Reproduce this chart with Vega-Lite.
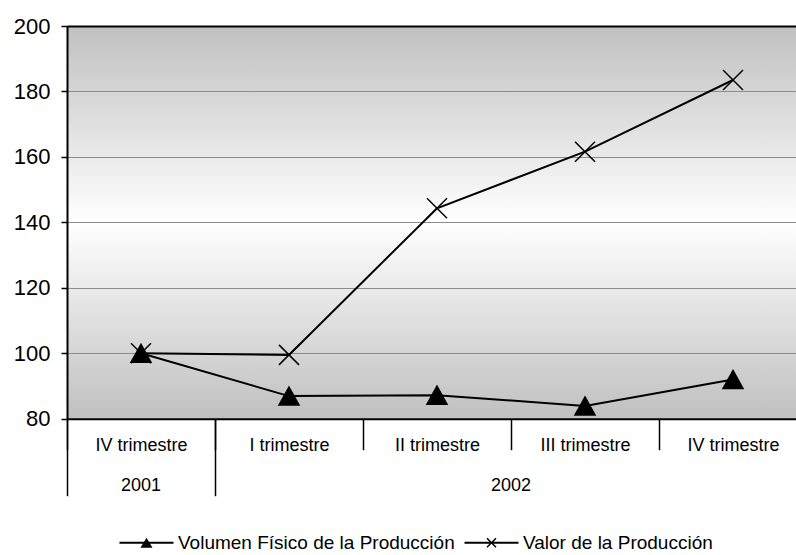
{
  "$schema": "https://vega.github.io/schema/vega-lite/v6.json",
  "width": 729,
  "height": 392.7,
  "autosize": {"type": "none"},
  "padding": {"left": 67, "top": 26, "right": 0, "bottom": 136.3},
  "background": "white",
  "view": {
    "fill": {
      "gradient": "linear", "x1": 0, "y1": 0, "x2": 0, "y2": 1,
      "stops": [
        {"offset": 0, "color": "#c0c0c0"},
        {"offset": 0.5, "color": "#ffffff"},
        {"offset": 1, "color": "#c0c0c0"}
      ]
    },
    "stroke": null
  },
  "config": {"font": "Liberation Sans"},
  "data": {
    "values": [
      {"trimestre": "2001-IV", "serie": "Volumen Físico de la Producción", "valor": 100},
      {"trimestre": "2002-I", "serie": "Volumen Físico de la Producción", "valor": 86.9},
      {"trimestre": "2002-II", "serie": "Volumen Físico de la Producción", "valor": 87.2},
      {"trimestre": "2002-III", "serie": "Volumen Físico de la Producción", "valor": 83.9},
      {"trimestre": "2002-IV", "serie": "Volumen Físico de la Producción", "valor": 92.0},
      {"trimestre": "2001-IV", "serie": "Valor de la Producción", "valor": 100},
      {"trimestre": "2002-I", "serie": "Valor de la Producción", "valor": 99.5},
      {"trimestre": "2002-II", "serie": "Valor de la Producción", "valor": 144.3},
      {"trimestre": "2002-III", "serie": "Valor de la Producción", "valor": 161.6},
      {"trimestre": "2002-IV", "serie": "Valor de la Producción", "valor": 183.5}
    ]
  },
  "encoding": {
    "y": {
      "field": "valor", "type": "quantitative",
      "scale": {"domain": [80, 200], "nice": false, "zero": false},
      "axis": {
        "title": null, "values": [80, 100, 120, 140, 160, 180, 200],
        "tickSize": 6, "tickColor": "black", "tickWidth": 1.5,
        "domainColor": "black", "domainWidth": 2,
        "labelFontSize": 22, "labelColor": "black", "labelPadding": 11,
        "grid": true,
        "gridColor": {"condition": {"test": "datum.value == 200", "value": "black"}, "value": "#8c8c8c"},
        "gridWidth": {"condition": {"test": "datum.value == 200", "value": 2}, "value": 1}
      }
    }
  },
  "layer": [
    {
      "mark": {"type": "line", "color": "black", "strokeWidth": 2},
      "encoding": {
        "x": {
          "field": "trimestre", "type": "nominal",
          "scale": {"type": "band", "domain": ["2001-IV", "2002-I", "2002-II", "2002-III", "2002-IV"], "range": [0, 740], "paddingInner": 0, "paddingOuter": 0},
          "axis": {
            "title": null, "grid": false, "tickBand": "extent", "tickSize": 31, "tickWidth": 1.5, "tickColor": "black",
            "domainColor": "black", "domainWidth": 2,
            "labelExpr": "datum.value ? split(datum.value, '-')[1] + ' trimestre' : ''",
            "labelAngle": 0, "labelFontSize": 18, "labelColor": "black", "labelBaseline": "middle", "labelPadding": -4, "labelOverlap": false
          }
        },
        "detail": {"field": "serie", "type": "nominal"}
      }
    },
    {
      "mark": {"type": "point", "filled": true, "color": "black", "fill": "black", "stroke": "black", "strokeWidth": 1.5, "size": 400, "opacity": 1},
      "encoding": {
        "x": {
          "field": "trimestre", "type": "nominal",
          "axis": {
            "orient": "bottom", "title": null, "grid": false, "values": ["2001-IV", "2002-I"], "bandPosition": 0,
            "tickSize": 77, "tickWidth": 1.5, "tickColor": "black", "labels": false, "domain": false
          }
        },
        "shape": {
          "field": "serie", "type": "nominal",
          "scale": {"domain": ["Volumen Físico de la Producción", "Valor de la Producción"], "range": ["M0,-0.9L1,0.9L-1,0.9Z", "M-1,-1L1,1M-1,1L1,-1"]},
          "legend": null
        }
      }
    },
    {
      "transform": [{"filter": "false"}],
      "mark": {"type": "point", "filled": true, "color": "black", "fill": "black", "stroke": "black", "strokeWidth": 1.5, "size": 100, "opacity": 1},
      "encoding": {
        "x": {
          "field": "trimestre", "type": "nominal",
          "axis": {
            "orient": "bottom", "title": null, "grid": false, "values": ["2001-IV", "2002-II"], "ticks": false, "domain": false,
            "labelExpr": "datum.value == '2001-IV' ? '2001' : '2002'",
            "labelOffset": {"condition": {"test": "datum.value == '2002-II'", "value": 74}, "value": 0},
            "labelPadding": 67, "labelBaseline": "middle", "labelFontSize": 18, "labelColor": "black", "labelAngle": 0
          }
        },
        "shape": {
          "field": "serie", "type": "nominal",
          "scale": {
            "domain": ["Volumen Físico de la Producción", "Valor de la Producción"],
            "range": [
              "M-5.4,-0.2L5.4,-0.2L5.4,0.2L-5.4,0.2ZM0,-1L1.2,1L-1.2,1Z",
              "M-5.4,-0.2L5.4,-0.2L5.4,0.2L-5.4,0.2ZM-0.794,-1.006L1.006,0.794L0.794,1.006L-1.006,-0.794ZM-0.794,1.006L-1.006,0.794L0.794,-1.006L1.006,-0.794Z"
            ]
          },
          "legend": {
            "title": null, "orient": "none", "legendX": 70, "legendY": 507, "direction": "horizontal",
            "labelFontSize": 19, "labelColor": "black", "labelOffset": 22, "columnPadding": 9, "labelLimit": 500,
            "symbolSize": 100, "symbolStrokeWidth": 0, "symbolFillColor": "black", "symbolStrokeColor": "black", "symbolOpacity": 1
          }
        }
      }
    }
  ],
  "resolve": {"axis": {"x": "independent"}, "scale": {"shape": "independent"}, "legend": {"shape": "independent"}}
}
